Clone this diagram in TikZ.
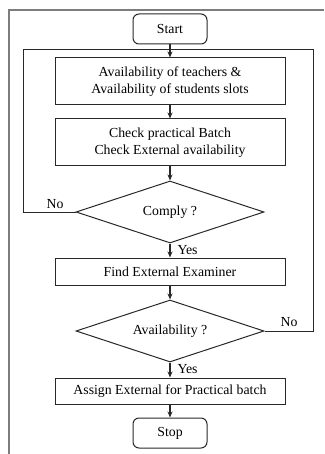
\documentclass[tikz,border=0pt]{standalone}
\usepackage{fontspec}
\setmainfont{Liberation Serif}
\usetikzlibrary{shapes.geometric,arrows.meta}
\definecolor{myFrame}{RGB}{125, 125, 125}
\definecolor{myLine}{RGB}{40, 40, 40}

\begin{document}
\begin{tikzpicture}[x = 1pt, y = -1pt,   % 1 Pixel = 1pt
    every node/.style = {font = \fontsize{13.8}{17}\selectfont, text = black},
    terminal/.style = {draw = myLine, line width = 1pt, rounded corners = 6pt,
      minimum width = 74pt, minimum height = 30pt, inner sep = 0pt},
    process/.style = {draw = myLine, line width = 1pt, minimum width = 230pt,
      inner sep = 0pt, align = center},
    decision/.style = {draw = myLine, line width = 1pt, diamond, aspect = 3,
      minimum width = 188pt, minimum height = 62pt, inner sep = 0pt},
    flow/.style = {draw = myLine, line width = 1.1pt, -{Stealth[length = 6pt, width = 5pt]}},
    loop/.style = {draw = myLine, line width = 1pt}]
  % Bounding box
  \useasboundingbox (0, 0) rectangle (324, 454);
  % Rahmen
  \draw [myFrame, line width = 1.6pt] (9, 454) -- (9, 10) -- (324, 10);
  % Knoten
  \node [terminal] (start) at (170, 29) {Start};
  \coordinate (join) at (170, 50);
  \node [process, minimum height = 47pt] (slots) at (170, 81.5)
    {Availability of teachers \&\\Availability of students slots};
  \node [process, minimum height = 47pt] (check) at (170, 142.5)
    {Check practical Batch\\Check External availability};
  \node [decision] (comply) at (170, 212) {Comply ?};
  \node [process, minimum height = 27pt] (find) at (170, 271.5) {Find External Examiner};
  \node [decision] (avail) at (170, 331) {Availability ?};
  \node [process, minimum height = 26pt] (assign) at (170, 391)
    {Assign External for Practical batch};
  \node [terminal] (stop) at (170, 433) {Stop};
  % Schleifen
  \coordinate (loopL) at (23, 50);
  \coordinate (loopR) at (313, 50);
  \draw [loop] (comply.west) -| (loopL) -- (join);
  \draw [loop] (avail.east) -| (loopR) -- (join);
  % Pfeile
  \draw [flow] (start) -- (slots);
  \draw [flow] (slots) -- (check);
  \draw [flow] (check) -- (comply);
  \draw [flow] (comply) -- (find);
  \draw [flow] (find) -- (avail);
  \draw [flow] (avail) -- (assign);
  \draw [flow] (assign) -- (stop);
  % Beschriftungen
  \node (no1) at (55, 204) {No};
  \node (no2) at (289, 322) {No};
  \node [anchor = west] (yes1) at (174, 250) {Yes};
  \node [anchor = west] (yes2) at (174, 369) {Yes};
\end{tikzpicture}
\end{document}
